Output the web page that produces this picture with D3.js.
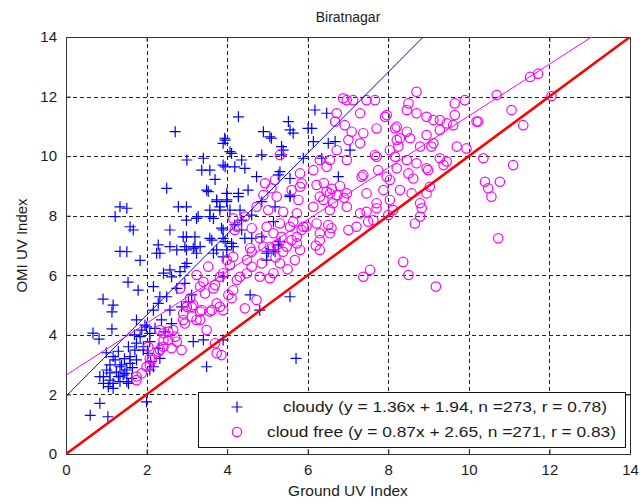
<!DOCTYPE html>
<html>
<head>
<meta charset="utf-8">
<script src="https://cdn.jsdelivr.net/npm/d3@7"></script>
<style>
  body { margin: 0; background: #fff; }
  svg { display: block; }
  svg text { font-family: "Liberation Sans", Arial, sans-serif; }
</style>
</head>
<body>
<svg></svg>
<script>
const WIDTH = 641;
const HEIGHT = 503;
const margin = { left: 66, top: 37, right: 11, bottom: 49 };

const title = "Biratnagar";
const xLabel = "Ground UV Index";
const yLabel = "OMI UV Index";
const xTicks = [0, 2, 4, 6, 8, 10, 12, 14];
const yTicks = [0, 2, 4, 6, 8, 10, 12, 14];

// fit lines: [slope, intercept]
const cloudyFit = [1.36, 1.94];
const clearFit = [0.87, 2.65];
const legendLabels = [
  "cloudy (y = 1.36x + 1.94, n =273, r = 0.78)",
  "cloud free (y = 0.87x + 2.65, n =271, r = 0.83)"
];

// ground UV, OMI UV — cloudy days (blue +)
const cloudy = [
  [0.60,1.30],[0.84,1.70],[1.04,1.25],[2.00,1.75],
  [0.67,4.06],[0.82,3.86],[1.14,4.20],[0.92,5.20],[1.17,5.00],[1.14,4.77],[1.54,5.77],[1.79,5.50],[1.84,6.50],[1.34,6.80],
  [0.84,2.60],[1.09,2.72],[1.17,2.37],[1.30,2.60],[1.42,2.65],[1.51,2.82],[1.59,3.04],[1.63,2.54],[1.55,2.37],[1.38,2.99],
  [1.22,3.16],[1.09,2.99],[0.93,2.37],[1.05,2.26],[1.17,2.20],[1.34,2.43],[1.51,2.43],[1.59,3.27],[1.71,3.49],[1.75,3.72],
  [1.84,3.94],[1.88,4.16],[2.00,4.27],[1.92,3.49],[1.75,3.16],
  [1.25,2.75],[1.45,3.20],[1.65,2.90],[1.00,3.40],[1.30,3.45],[1.55,3.60],[1.70,4.00],[2.10,3.10],
  [2.17,5.62],[2.42,6.07],[2.62,5.95],[2.83,6.12],[1.75,4.50],[2.08,3.77],[2.17,4.83],[2.29,5.06],[2.50,5.28],[2.75,5.56],
  [2.58,4.83],[2.37,4.50],[2.04,3.38],[2.33,3.21],[3.49,2.93],[3.16,3.77],[3.41,3.83],[1.17,3.27],[1.34,2.93],[1.46,2.71],
  [1.01,2.82],[0.93,2.60],[1.09,2.48],
  [1.96,4.33],[2.08,4.05],[2.21,4.22],[1.92,3.60],[2.29,3.55],[2.17,2.93],[2.08,2.82],[2.46,4.10],[2.62,4.38],[2.87,4.94],
  [3.04,5.11],[3.12,5.34],[2.95,5.73],[2.58,6.18],[2.33,5.28],[3.00,6.40],[3.24,6.74],[2.33,6.74],[3.90,6.62],
  [2.71,10.82],[3.94,10.60],[3.00,9.87],[3.41,9.93],[3.37,9.53],[3.57,9.53],[3.70,9.22],[2.50,8.92],[3.49,8.86],[3.90,9.70],
  [2.79,8.30],[2.99,8.30],[1.51,8.25],[1.34,8.30],[1.22,7.97],[1.59,7.63],[1.67,7.52],[2.58,7.52],[2.99,7.85],[2.99,7.29],
  [3.28,7.97],[3.57,7.97],[3.74,8.53],[3.82,8.30],[1.51,6.79],[2.29,7.02],[2.25,6.74],[2.58,6.96],[2.75,6.85],[2.99,6.85],
  [3.20,6.96],[3.33,6.96],[3.57,7.24],[3.66,6.74],[3.90,7.52],
  [4.28,11.32],[6.18,11.55],[6.47,11.44],[4.90,10.82],[5.10,10.60],[5.52,11.16],[5.56,10.88],[5.64,10.77],[6.01,10.93],
  [5.35,10.32],[5.39,10.20],[3.95,10.54],[4.07,10.15],[4.36,9.87],[4.19,9.64],[4.44,9.59],[4.86,10.04],[6.14,10.49],
  [6.68,10.49],[5.89,9.93],[7.05,10.20],[5.31,9.48],[4.73,9.31],[5.56,9.25],[6.76,9.31],[3.95,9.64],[4.52,8.86],[4.28,8.64],
  [3.99,8.53],[5.56,8.69],[5.19,8.30],[4.86,8.47],[4.32,8.19],[4.61,8.02],[4.19,7.69],[5.15,7.80],[4.44,7.24],[4.86,7.29],
  [3.95,7.13],[4.15,6.96],[5.02,6.79],[5.31,7.13],
  [6.10,10.93],[6.51,10.43],[6.35,9.93],
  [3.90,10.43],[5.06,10.65],[4.11,10.09],[3.53,8.81],[3.99,8.75],[4.28,8.75],[3.99,8.47],[3.74,8.47],[3.82,8.19],[3.57,8.19],
  [4.07,8.19],[3.24,7.91],[3.66,7.91],[3.86,7.58],[4.36,7.85],[4.36,7.52],[2.91,7.29],[3.20,7.29],[3.62,7.18],[3.90,7.24],
  [4.11,7.07],[4.61,7.24],[2.95,6.96],[3.16,6.91],[3.74,6.85],[3.99,6.85],[4.98,6.51],[2.95,6.29],[3.90,5.95],
  [5.35,10.04],[5.27,9.37],[5.56,8.64],[5.27,7.02],[5.15,6.85],[5.56,5.28],
  [4.57,5.34],[4.81,4.83],[3.90,3.83],[5.71,3.21],[4.98,6.74],[5.19,6.79]
];

// ground UV, OMI UV — cloud free days (magenta o)
const cloudFree = [
  [1.75,2.60],[2.00,2.93],[2.04,3.60],[1.88,2.71],[2.13,3.16],[2.33,3.49],[2.42,3.83],[2.54,4.10],[2.33,4.16],[2.87,3.49],
  [2.71,3.94],[2.95,4.38],[3.12,4.94],[3.24,4.50],[3.49,4.16],[3.74,3.38],[3.33,4.78],[3.62,4.83],[3.82,4.94],[2.91,4.72],
  [3.41,5.78],[3.66,5.56],[3.90,6.07],[3.99,6.51],[3.53,6.29],
  [1.75,2.48],[2.08,2.99],[2.08,3.21],[2.29,3.43],[2.42,3.60],[2.62,3.55],[2.42,4.05],[2.54,3.83],[2.75,3.77],[2.66,4.16],
  [2.91,4.50],[3.12,4.61],[3.00,4.94],[3.16,5.00],[3.37,4.83],[3.57,4.78],[3.74,5.06],[3.33,4.50],[3.70,3.72],[3.08,5.23],
  [2.83,5.56],[3.33,5.62],[3.70,5.67],[3.24,6.01],[4.03,5.34],[4.15,5.50],[3.45,5.39],
  [5.31,10.04],[4.94,9.09],[5.10,8.92],[4.90,8.69],[5.23,8.64],[5.60,8.86],[5.81,8.97],[5.77,8.53],[4.73,8.30],[5.02,8.19],
  [5.39,8.13],[5.73,8.08],[4.15,7.91],[4.44,7.97],[4.19,7.52],[4.61,7.58],[4.98,7.63],[5.31,7.74],[5.64,7.80],[4.81,7.24],
  [5.35,7.29],[5.73,7.29],[4.57,6.91],[5.06,6.96],[5.48,6.96],[4.07,6.34],[4.49,6.51],[4.61,6.29],[4.86,6.40],[5.31,6.40],
  [5.68,6.51],[3.82,5.95],[4.32,5.95],[5.15,6.07],
  [6.97,11.88],[7.13,11.88],[7.46,11.88],[7.67,11.88],[6.72,11.44],[7.30,11.44],[7.92,11.32],[6.68,11.16],[6.92,11.04],
  [7.09,10.82],[7.38,10.77],[7.71,10.93],[8.17,10.93],[7.01,10.54],[6.72,10.20],[7.30,10.43],[6.55,9.87],[6.30,9.87],
  [6.97,9.87],[7.71,9.98],[8.04,10.20],[8.21,10.54],[5.81,9.42],[6.14,9.53],[6.47,9.64],[7.38,9.37],[7.75,9.53],[7.96,9.31],
  [5.85,9.09],[6.22,9.03],[6.55,8.75],[6.72,8.69],[6.97,8.75],[6.30,8.64],[7.46,8.75],[7.71,8.42],[8.04,8.53],[8.12,8.19],
  [6.14,8.30],[6.55,8.19],[6.97,8.30],[7.30,8.08],[7.63,7.85],[5.89,7.63],[6.22,7.74],[6.30,7.41],[6.55,7.41],[5.60,7.18],
  [5.15,7.41],[5.23,7.02],[5.81,6.85],[6.30,6.85],[4.24,7.63],[4.90,6.96],[4.61,6.79],[5.19,9.20],
  [6.88,11.94],[8.70,12.16],[9.65,11.77],[9.90,11.88],[7.96,11.38],[8.46,11.55],[8.70,11.44],[8.95,11.32],[9.12,11.21],
  [9.28,11.21],[9.65,11.38],[9.45,11.10],[10.19,11.16],[8.21,10.99],[8.46,10.82],[8.29,10.60],[8.54,10.60],[8.95,10.71],
  [9.28,10.88],[9.61,11.04],[9.12,10.43],[8.79,10.32],[9.70,10.32],[9.94,10.26],[8.25,10.32],[7.67,10.04],[8.17,9.98],
  [8.46,9.87],[8.70,9.76],[9.28,9.93],[9.45,9.82],[8.95,9.59],[8.21,9.59],[8.04,9.20],[8.62,9.25],[9.03,8.97],[8.29,8.86],
  [7.88,8.86],[8.58,8.75],
  [10.69,12.05],[11.52,12.66],[11.72,12.77],[12.05,12.02],[8.50,11.77],[11.06,11.55],[10.23,11.16],[11.35,11.04],[9.07,10.32],
  [10.36,9.93],[11.10,9.70],[9.37,9.70],[8.99,9.53],[8.50,9.42],[10.40,9.14],[10.77,9.14],[10.48,8.92],[10.56,8.64],[8.95,8.75],
  [8.79,8.42],[8.83,8.25],[8.79,7.97],[8.66,7.74],[10.73,7.24],[8.37,6.45],[8.50,6.01],[9.18,5.62],
  [7.38,5.95],[7.55,6.18],[4.11,5.23],[4.44,4.89],[4.73,5.17],[3.90,4.83],[3.86,3.32],[4.24,5.84],[4.49,6.07],[4.81,5.95],
  [5.06,5.90],[4.15,6.62],
  [7.34,9.31],[6.47,8.81],[6.39,8.53],[6.63,8.42],[7.46,8.13],[7.71,8.25],[7.21,7.63],[7.50,7.80],[8.00,8.02],[7.01,7.52],
  [6.51,7.69],[6.30,7.18],[5.56,7.63],[5.85,7.52],[5.39,6.79],[5.73,7.07],[5.97,7.63],[6.59,7.58],
  [6.60,8.90],[6.80,9.00],[6.40,9.10],[6.90,8.60],[5.20,6.60],[5.50,6.20],[6.20,7.00]
];

const BLUE = "#0000ff";
const MAGENTA = "#ff00ff";
const RED = "#ff0000";
const INK = "#1a1a1a";
const FONT = "'Liberation Sans', Arial, sans-serif";

const svg = d3.select("svg").attr("width", WIDTH).attr("height", HEIGHT);

const x = d3.scaleLinear().domain([0, 14]).range([margin.left, WIDTH - margin.right]);
const y = d3.scaleLinear().domain([0, 14]).range([HEIGHT - margin.bottom, margin.top]);

const [x0, x1] = x.range();
const [y0, y1] = y.range();

svg.append("defs").append("clipPath").attr("id", "plot")
  .append("rect")
  .attr("x", x0).attr("y", y1)
  .attr("width", x1 - x0).attr("height", y0 - y1);

// grid
const grid = svg.append("g").attr("stroke", "#222").attr("stroke-width", 1)
  .attr("stroke-dasharray", "4,3");
grid.selectAll(".gx").data(xTicks.slice(1, -1)).join("line")
  .attr("x1", (d) => Math.round(x(d)) + 0.5).attr("x2", (d) => Math.round(x(d)) + 0.5)
  .attr("y1", y0).attr("y2", y1);
grid.selectAll(".gy").data(yTicks.slice(1, -1)).join("line")
  .attr("y1", (d) => Math.round(y(d)) + 0.5).attr("y2", (d) => Math.round(y(d)) + 0.5)
  .attr("x1", x0).attr("x2", x1);

// axes with inward ticks on all four sides
const axisBottom = d3.axisBottom(x).tickValues(xTicks).tickSize(-5).tickPadding(10);
const axisLeft = d3.axisLeft(y).tickValues(yTicks).tickSize(-5).tickPadding(9);

svg.append("g").attr("transform", `translate(0,${y0})`).call(axisBottom);
svg.append("g").attr("transform", `translate(${x0},0)`).call(axisLeft);
svg.append("g").attr("transform", `translate(0,${y1})`)
  .call(d3.axisTop(x).tickValues(xTicks).tickSize(-5).tickFormat(""));
svg.append("g").attr("transform", `translate(${x1},0)`)
  .call(d3.axisRight(y).tickValues(yTicks).tickSize(-5).tickFormat(""));

svg.selectAll(".domain").attr("stroke", "#333");
svg.selectAll(".tick line").attr("stroke", "#333");
svg.selectAll(".tick text")
  .attr("fill", INK)
  .style("font-size", "15px")
  .style("font-family", FONT);

// points
const plot = svg.append("g").attr("clip-path", "url(#plot)");

const plus = (cx, cy, r) => `M${cx - r},${cy}H${cx + r}M${cx},${cy - r}V${cy + r}`;

plot.append("g").selectAll("path").data(cloudy).join("path")
  .attr("d", (d) => plus(x(d[0]), y(d[1]), 5.5))
  .attr("fill", "none").attr("stroke", BLUE).attr("stroke-width", 1.2);

plot.append("g").selectAll("circle").data(cloudFree).join("circle")
  .attr("cx", (d) => x(d[0])).attr("cy", (d) => y(d[1])).attr("r", 4.7)
  .attr("fill", "none").attr("stroke", MAGENTA).attr("stroke-width", 1.2);

// regression lines and 1:1 line
const line = d3.line().x((d) => x(d[0])).y((d) => y(d[1]));
const fitPts = (f) => [[0, f[1]], [14, f[0] * 14 + f[1]]];

plot.append("path").attr("d", line(fitPts(cloudyFit)))
  .attr("stroke", BLUE).attr("stroke-width", 1).attr("fill", "none");
plot.append("path").attr("d", line(fitPts(clearFit)))
  .attr("stroke", MAGENTA).attr("stroke-width", 1).attr("fill", "none");
plot.append("path").attr("d", line([[0, 0], [14, 14]]))
  .attr("stroke", RED).attr("stroke-width", 2.6).attr("fill", "none");

// title and axis labels
svg.append("text").attr("x", (x0 + x1) / 2).attr("y", 22)
  .attr("text-anchor", "middle").attr("fill", INK)
  .style("font-family", FONT).style("font-size", "14px").text(title);
svg.append("text").attr("x", (x0 + x1) / 2).attr("y", 496)
  .attr("text-anchor", "middle").attr("fill", INK)
  .style("font-family", FONT).style("font-size", "15.5px").text(xLabel);
svg.append("text").attr("transform", `translate(27,${(y0 + y1) / 2}) rotate(-90)`)
  .attr("text-anchor", "middle").attr("fill", INK)
  .style("font-family", FONT).style("font-size", "15px").text(yLabel);

// legend
const legend = svg.append("g");
legend.append("rect")
  .attr("x", 198.5).attr("y", 392.5).attr("width", 427).attr("height", 55)
  .attr("fill", "#fff").attr("stroke", "#111").attr("stroke-width", 1);

legend.append("path").attr("d", plus(237, 407, 5.5))
  .attr("stroke", BLUE).attr("stroke-width", 1.2).attr("fill", "none");
legend.append("circle").attr("cx", 237).attr("cy", 432).attr("r", 4.7)
  .attr("stroke", MAGENTA).attr("stroke-width", 1.2).attr("fill", "none");

const legendX = [283, 267];
const legendW = [324, 349];
legend.selectAll("text").data(legendLabels).join("text")
  .attr("x", (d, i) => legendX[i])
  .attr("y", (d, i) => 412 + i * 25)
  .attr("textLength", (d, i) => legendW[i])
  .attr("lengthAdjust", "spacingAndGlyphs")
  .attr("fill", INK)
  .style("font-family", FONT).style("font-size", "15px")
  .text((d) => d);
</script>
</body>
</html>
